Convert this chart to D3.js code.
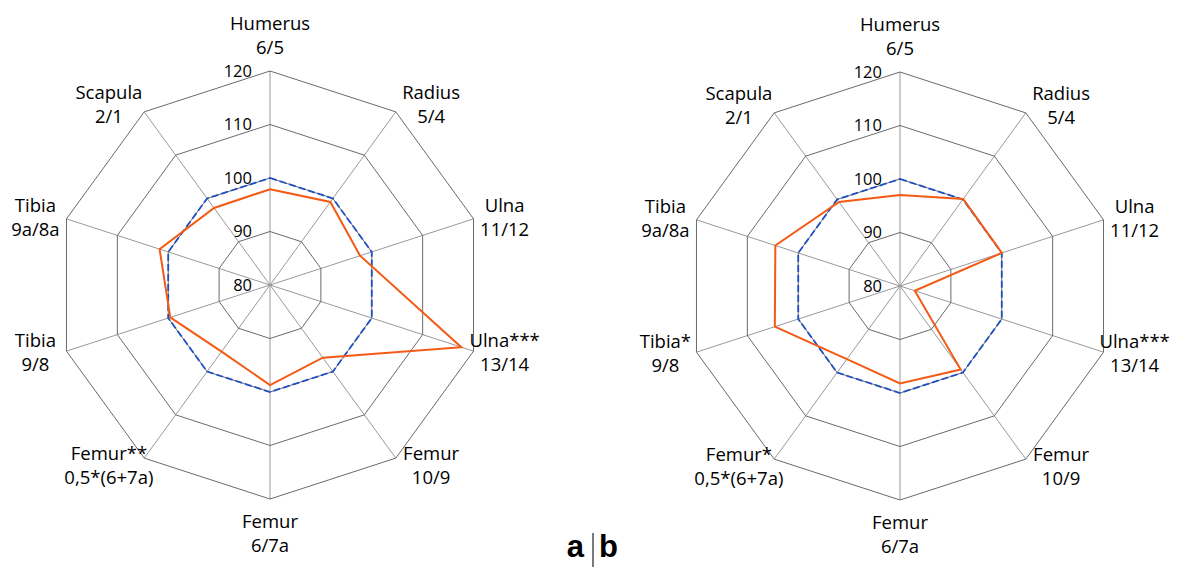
<!DOCTYPE html>
<html>
<head>
<meta charset="utf-8">
<script src="https://cdn.jsdelivr.net/npm/d3@7"></script>
<style>
  body { margin: 0; background: #fff; }
  text { font-family: "Open Sans", sans-serif; fill: #000; }
</style>
</head>
<body>
<script>
// axis labels, clockwise from the top
var namesA = ["Humerus", "Radius", "Ulna", "Ulna***", "Femur", "Femur", "Femur**", "Tibia", "Tibia", "Scapula"]
var namesB = ["Humerus", "Radius", "Ulna", "Ulna***", "Femur", "Femur", "Femur*", "Tibia*", "Tibia", "Scapula"]
var ratios = ["6/5", "5/4", "11/12", "13/14", "10/9", "6/7a", "0,5*(6+7a)", "9/8", "9a/8a", "2/1"]

// index values (orange) and the 100 reference (blue dashed)
var valuesA = [97.9, 99.2, 97.7, 117.6, 96.8, 98.7, 95.4, 99.6, 101.7, 97.8]
var valuesB = [97.0, 100.1, 100.0, 82.9, 99.3, 98.2, 96.9, 104.6, 104.5, 99.4]
var reference = [100, 100, 100, 100, 100, 100, 100, 100, 100, 100]

var ticks = [80, 90, 100, 110, 120]
var panels = ["a", "b"]

var width = 1185
var height = 567
var radius = 214

var svg = d3.select("body").append("svg")
  .attr("width", width)
  .attr("height", height)

var r = d3.scaleLinear().domain([80, 120]).range([0, radius])
var n = ratios.length
var angle = function(i) { return i * 2 * Math.PI / n }

var line = d3.lineRadial()
  .angle(function(d, i) { return angle(i) })
  .radius(function(d) { return r(d) })
  .curve(d3.curveLinearClosed)

function drawRadar(cx, cy, names, values) {
  var g = svg.append("g").attr("transform", "translate(" + cx + "," + cy + ")")

  // spokes
  g.selectAll(".spoke")
    .data(d3.range(n))
    .enter().append("line")
      .attr("x1", 0).attr("y1", 0)
      .attr("x2", function(i) { return Math.sin(angle(i)) * r(120) })
      .attr("y2", function(i) { return -Math.cos(angle(i)) * r(120) })
      .attr("stroke", "#999")
      .attr("stroke-width", 1)

  // grid decagons
  g.selectAll(".grid")
    .data(ticks.slice(1))
    .enter().append("path")
      .attr("d", function(t) { return line(d3.range(n).map(function() { return t })) })
      .attr("fill", "none")
      .attr("stroke", "#6a6a6a")
      .attr("stroke-width", 1)

  // tick labels
  g.selectAll(".tick")
    .data(ticks)
    .enter().append("text")
      .attr("x", -18)
      .attr("y", function(t) { return -r(t) })
      .attr("dy", "0.35em")
      .attr("text-anchor", "end")
      .style("font-size", "16.5px")
      .text(function(t) { return t })

  g.append("path")
    .attr("d", line(reference))
    .attr("fill", "none")
    .attr("stroke", "#1f4fc4")
    .attr("stroke-width", 1.8)
    .attr("stroke-dasharray", "7,3")

  g.append("path")
    .attr("d", line(values))
    .attr("fill", "none")
    .attr("stroke", "#f45a14")
    .attr("stroke-width", 2)
    .attr("stroke-linejoin", "miter")

  // axis labels
  var lab = g.selectAll(".lab")
    .data(d3.range(n))
    .enter().append("text")
      .attr("text-anchor", "middle")
      .style("font-size", "18.5px")
      .attr("transform", function(i) {
        var s = Math.sin(angle(i)), c = Math.cos(angle(i))
        var rx = 242 + 49 * c * c
        var ry = 217 + 32 * Math.pow(c, 8)
        return "translate(" + (s * rx) + "," + (-c * ry) + ")"
      })
  lab.append("tspan").attr("x", 0).attr("y", -12).attr("dy", "0.35em").text(function(i) { return names[i] })
  lab.append("tspan").attr("x", 0).attr("y", 12).attr("dy", "0.35em").text(function(i) { return ratios[i] })
}

drawRadar(270, 285, namesA, valuesA)
drawRadar(900, 286, namesB, valuesB)

// panel letters
svg.append("text").attr("x", 584).attr("y", 557).attr("text-anchor", "end")
  .style("font-family", "'Liberation Sans', Arial, sans-serif").style("font-weight", "bold").style("font-size", "31px")
  .text(panels[0])
svg.append("line").attr("x1", 593).attr("x2", 593).attr("y1", 533).attr("y2", 567)
  .attr("stroke", "#222").attr("stroke-width", 1.2)
svg.append("text").attr("x", 599).attr("y", 557).attr("text-anchor", "start")
  .style("font-family", "'Liberation Sans', Arial, sans-serif").style("font-weight", "bold").style("font-size", "31px")
  .text(panels[1])
</script>
</body>
</html>
